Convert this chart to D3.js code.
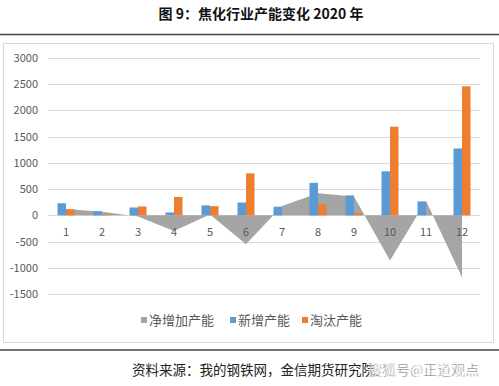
<!DOCTYPE html>
<html>
<head>
<meta charset="utf-8">
<script src="https://cdn.jsdelivr.net/npm/d3@7"></script>
<style>
  body { margin: 0; background: #fff; }
  text { font-family: "Noto Sans CJK SC", "DejaVu Sans", sans-serif; }
</style>
</head>
<body>
<svg width="499" height="386"></svg>
<script>
let svg = d3.select("svg");
let width = +svg.attr("width");

const months = ["1", "2", "3", "4", "5", "6", "7", "8", "9", "10", "11", "12"];
const netAdded = [120, 70, -20, -300, 15, -550, 180, 420, 360, -860, 280, -1180];
const newCap = [230, 80, 150, 55, 190, 245, 165, 620, 380, 840, 265, 1275];
const retired = [115, 10, 170, 350, 175, 800, 0, 210, 40, 1690, 0, 2460];
const yTicks = [-1500, -1000, -500, 0, 500, 1000, 1500, 2000, 2500, 3000];
const seriesNames = ["净增加产能", "新增产能", "淘汰产能"];
const colors = ["#a5a5a5", "#5b9bd5", "#ed7d31"];

// title + rules
svg.append("text")
  .attr("x", 261).attr("y", 19)
  .attr("text-anchor", "middle")
  .style("font-size", "14px").style("font-weight", "bold").style("fill", "#111")
  .text("图 9：焦化行业产能变化 2020 年");

svg.append("line").attr("x1", 0).attr("x2", width).attr("y1", 34.5).attr("y2", 34.5)
  .style("stroke", "#444").style("stroke-width", 1.5);
svg.append("line").attr("x1", 0).attr("x2", width).attr("y1", 350).attr("y2", 350)
  .style("stroke", "#444").style("stroke-width", 1.5);

svg.append("rect")
  .attr("x", 3.5).attr("y", 43.5).attr("width", 490).attr("height", 299)
  .style("fill", "none").style("stroke", "#d9d9d9");

let x = d3.scaleBand().domain(months).range([48, 480]);
let xs = d3.scaleBand().domain([0, 1]).range([9.5, 26.5]);
let y = d3.scaleLinear().domain([-1500, 3000]).range([294, 58]);

// gridlines
svg.append("g").selectAll("line")
  .data(yTicks)
  .enter().append("line")
  .attr("x1", 48).attr("x2", 480)
  .attr("y1", d => Math.round(y(d)) + 0.5).attr("y2", d => Math.round(y(d)) + 0.5)
  .style("stroke", "#d9d9d9");

// y labels
svg.append("g").selectAll("text")
  .data(yTicks)
  .enter().append("text")
  .attr("x", 38).attr("y", d => y(d) + 4)
  .attr("text-anchor", "end")
  .style("font-size", "11px").style("fill", "#595959")
  .text(d => d);

// net area
let area = d3.area()
  .x((d, i) => x(months[i]) + x.bandwidth() / 2)
  .y0(y(0))
  .y1(d => y(d));
svg.append("path")
  .datum(netAdded)
  .attr("d", area)
  .style("fill", colors[0]);

// bars
let groups = svg.append("g").selectAll("g")
  .data(months)
  .enter().append("g")
  .attr("transform", d => `translate(${x(d)},0)`);

groups.append("rect")
  .attr("x", xs(0)).attr("width", xs.bandwidth())
  .attr("y", (d, i) => y(newCap[i]))
  .attr("height", (d, i) => y(0) - y(newCap[i]))
  .style("fill", colors[1]);

groups.append("rect")
  .attr("x", xs(1)).attr("width", xs.bandwidth())
  .attr("y", (d, i) => y(retired[i]))
  .attr("height", (d, i) => y(0) - y(retired[i]))
  .style("fill", colors[2]);

// x labels
svg.append("g").selectAll("text")
  .data(months)
  .enter().append("text")
  .attr("x", d => x(d) + x.bandwidth() / 2)
  .attr("y", 236)
  .attr("text-anchor", "middle")
  .style("font-size", "11px").style("fill", "#595959")
  .text(d => d);

// legend
const legendX = [141, 230, 302];
let legend = svg.append("g").selectAll("g")
  .data(seriesNames)
  .enter().append("g")
  .attr("transform", (d, i) => `translate(${legendX[i]},321)`);
legend.append("rect")
  .attr("x", 0).attr("y", -4).attr("width", 6).attr("height", 6)
  .style("fill", (d, i) => colors[i]);
legend.append("text")
  .attr("x", 8).attr("y", 4)
  .style("font-size", "13px").style("fill", "#595959")
  .text(d => d);

// source
svg.append("text")
  .attr("x", 132).attr("y", 375)
  .style("font-size", "13.5px").style("fill", "#222")
  .text("资料来源：我的钢铁网，金信期货研究院");
svg.append("text")
  .attr("x", 368).attr("y", 375)
  .style("font-size", "14px").style("fill", "#333")
  .style("stroke", "#fff").style("stroke-width", 0.6)
  .text("搜狐号@正道观点");
</script>
</body>
</html>
